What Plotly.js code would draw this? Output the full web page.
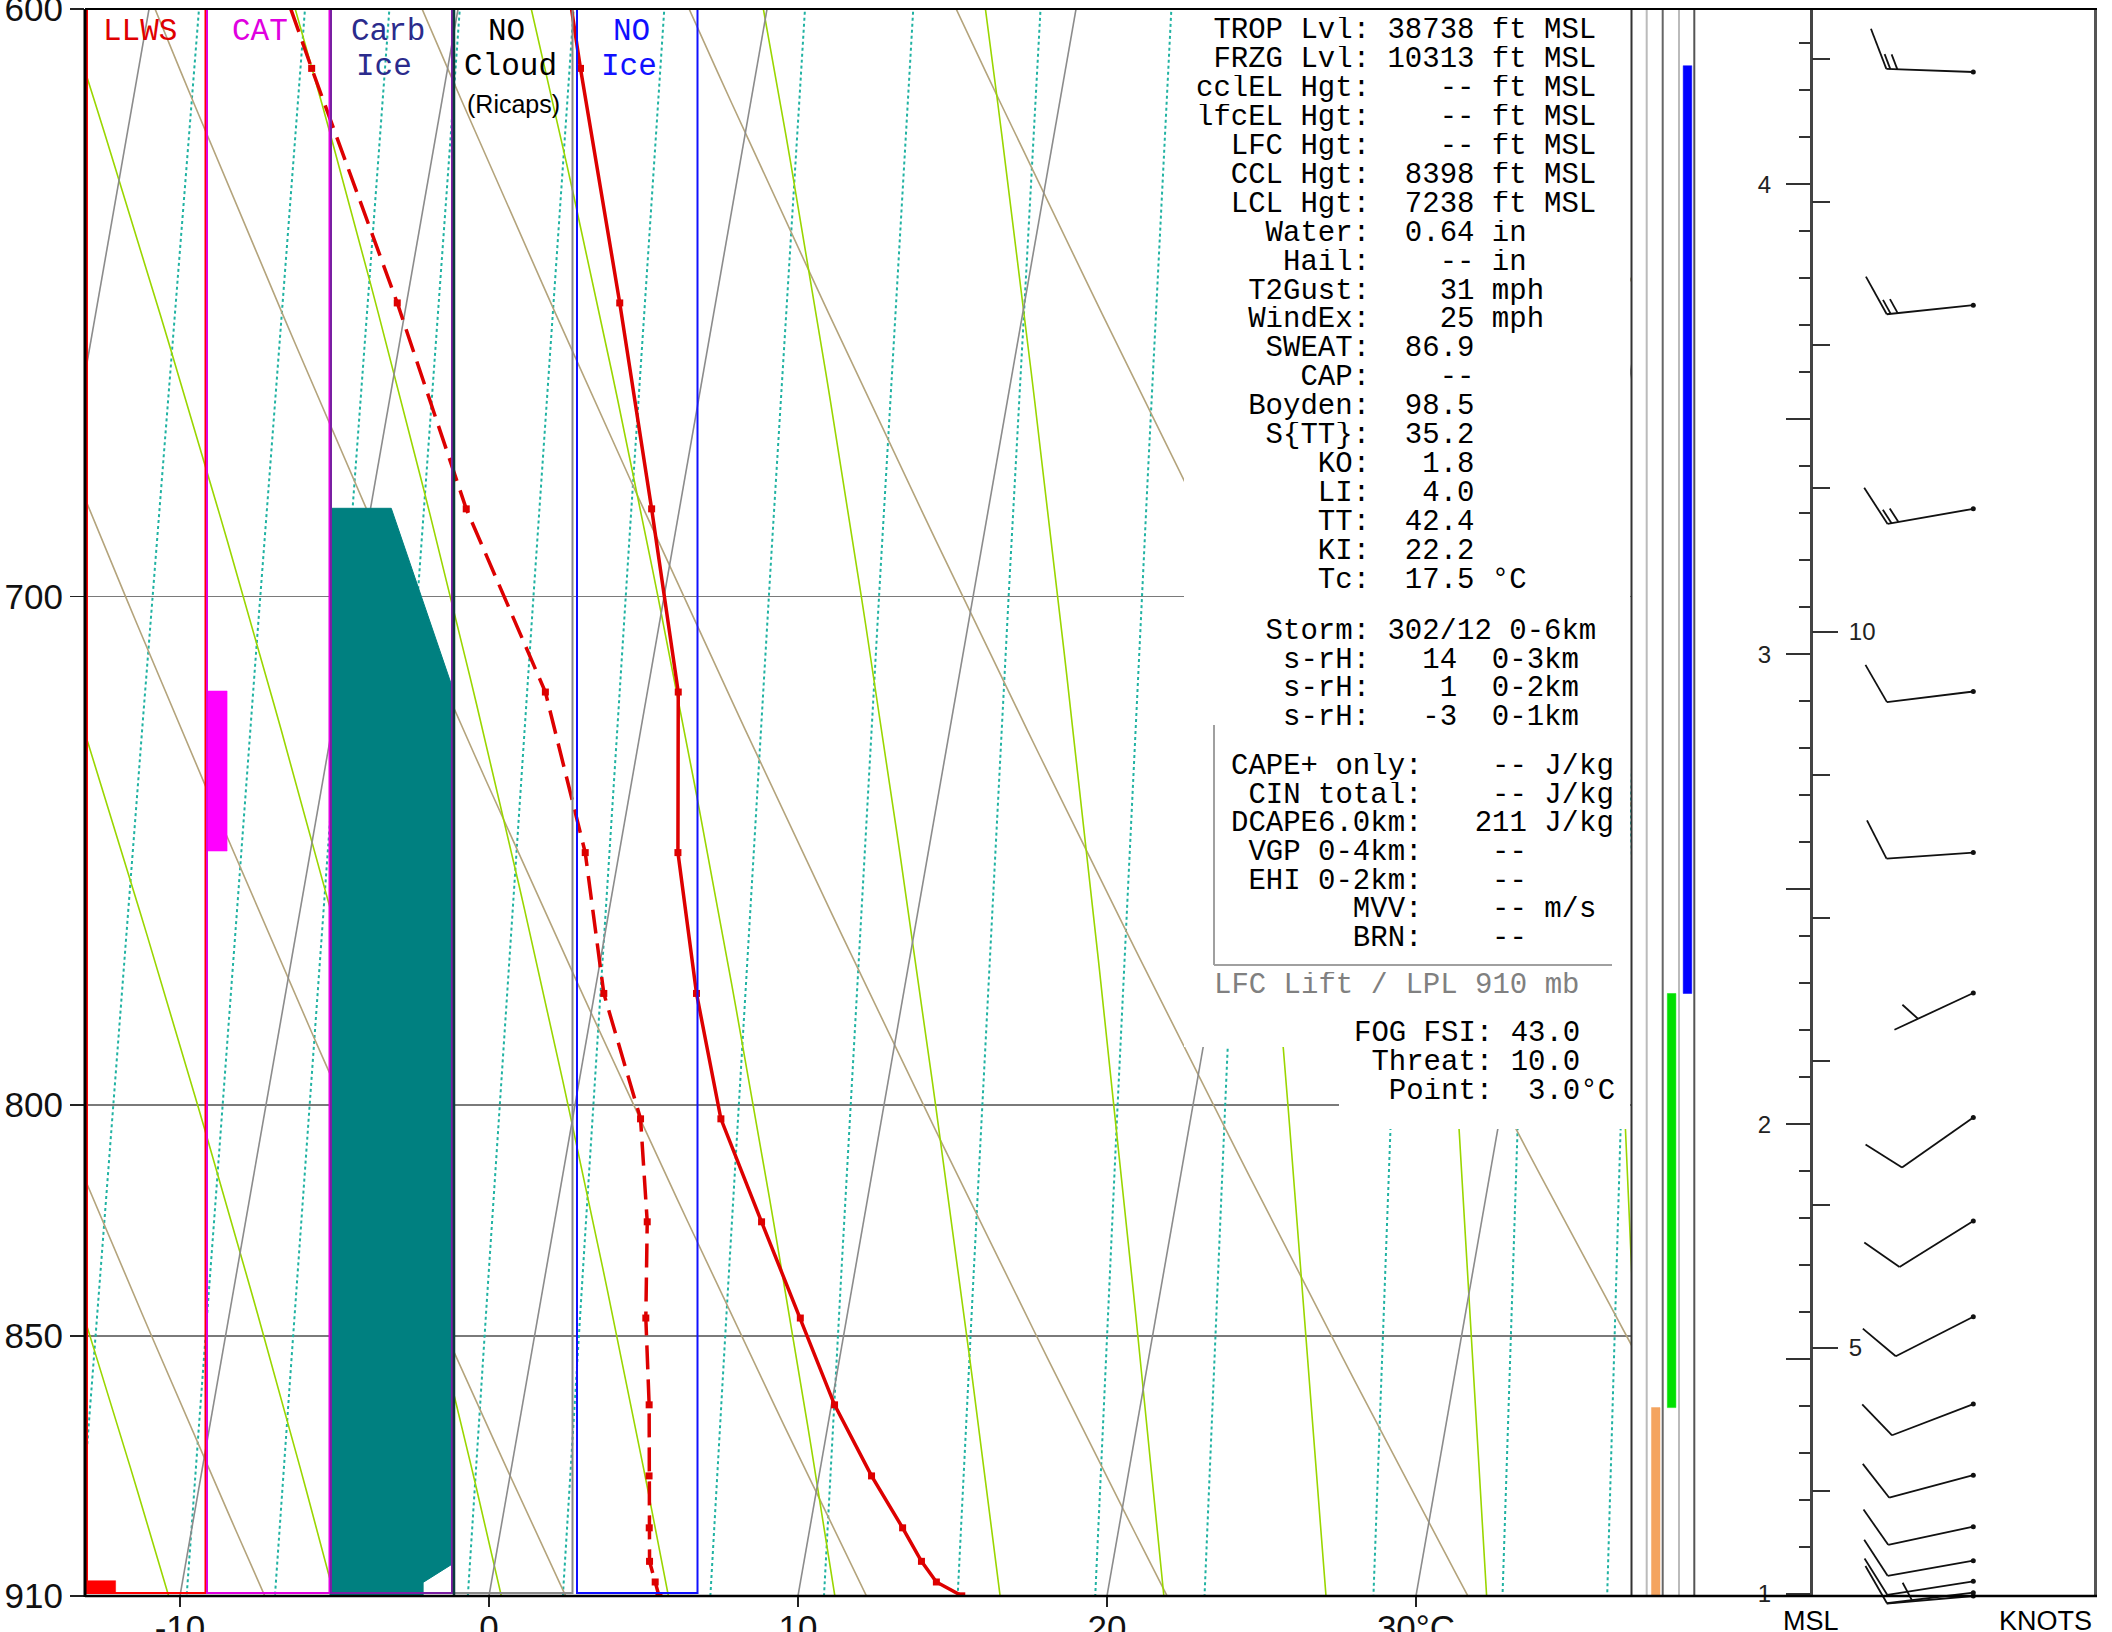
<!DOCTYPE html>
<html>
<head>
<meta charset="utf-8">
<script src="https://cdn.plot.ly/plotly-3.0.1.min.js"></script>
<style>html,body{margin:0;padding:0;background:#fff}#chart{width:2112px;height:1632px}</style>
</head>
<body>
<div id="chart"></div>
<script>
// ================= DATA =================
// Sounding levels (mb), temperature and dew point (deg C)
const levelPres = [590, 609.4, 648.1, 684.1, 717.8, 748.7, 776.9, 802.9, 824.9, 846.0, 865.5, 881.8, 893.9, 901.8, 906.7, 910];
const tempC     = [-7.0, -5.7, -3.1, -0.9, 1.0, 1.9, 3.3, 4.8, 6.7, 8.5, 10.1, 11.7, 13.0, 13.8, 14.4, 15.3];
const dewC      = [-16.5, -14.4, -10.3, -6.9, -3.3, -1.1, 0.3, 2.2, 3.0, 3.5, 4.1, 4.5, 4.8, 5.0, 5.3, 5.5];

// Winds (mb, direction deg, speed kt)
const windPres = [610.0, 648.5, 684.1, 717.7, 748.7, 776.8, 802.6, 824.7, 845.7, 865.3, 881.6, 893.6, 901.6, 906.5, 909.2, 910];
const windDir  = [272, 264, 260, 263, 266, 245, 235, 238, 243, 249, 255, 258, 260, 261, 263, 265];
const windKt   = [14, 14, 14, 10, 10, 5, 10, 10, 10, 10, 10, 10, 10, 10, 10, 5];

// Hazard panels: LLWS, CAT, Carb Ice (pressure, intensity as fraction of panel width)
const llwsPres = [906.4, 909.2];
const llwsLevel = 0.25;
const catPres = [717.6, 748.4];
const catLevel = 0.16;
const carbIcePres  = [910, 684, 684, 717, 902.4, 906.8, 910];
const carbIceLevel = [0, 0, 0.5, 1.0, 1.0, 0.76, 0.76];

// Layer strip (top/bottom pressure, column, colour)
const layerTopP = [609.0, 776.9, 866.1];
const layerBotP = [776.9, 866.1, 910];
const layerCol  = [2, 1, 0];
const layerColor = ['#0000FF', '#00E000', '#F4A460'];

// Diagram reference-line families
const isoTemps   = [-40, -30, -20, -10, 0, 10, 20, 30, 40, 50];
const dryThetaC  = [-10, 0, 10, 20, 30, 40, 50, 60, 70, 80];
const moistThwC  = [-10, -5, 0, 5, 10, 15, 20, 25, 30, 35, 40];
const mixRatios  = [1, 1.5, 2, 2.5, 3, 4, 5, 7, 9, 12, 16, 20, 28, 36, 44];

// Axis tick labels
const presTicks = [600, 700, 800, 850, 910];
const tempTicks = [-10, 0, 10, 20, 30];
const tempTickText = ['-10', '0', '10', '20', '30°C'];

// Text block
const statLabels = ['TROP Lvl','FRZG Lvl','cclEL Hgt','lfcEL Hgt','LFC Hgt','CCL Hgt','LCL Hgt','Water','Hail','T2Gust','WindEx','SWEAT','CAP','Boyden','S{TT}','KO','LI','TT','KI','Tc'];
const statValues = ['38738','10313','--','--','--','8398','7238','0.64','--','31','25','86.9','--','98.5','35.2','1.8','4.0','42.4','22.2','17.5'];
const statUnits  = ['ft MSL','ft MSL','ft MSL','ft MSL','ft MSL','ft MSL','ft MSL','in','in','mph','mph','','','','','','','','','°C'];
const shearLabels = ['Storm','s-rH','s-rH','s-rH'];
const shearValues = ['302/12','14','1','-3'];
const shearLayers = ['0-6km','0-3km','0-2km','0-1km'];
const capeLabels = ['CAPE+ only','CIN total','DCAPE6.0km','VGP 0-4km','EHI 0-2km','MVV','BRN'];
const capeValues = ['--','--','211','--','--','--','--'];
const capeUnits  = ['J/kg','J/kg','J/kg','','','m/s',''];
const fogLabels = ['FOG FSI','Threat','Point'];
const fogValues = ['43.0','10.0','3.0'];
const fogUnits  = ['','','°C'];
const panelNames  = [['LLWS'], ['CAT'], ['Carb','Ice'], ['NO','Cloud'], ['NO','Ice']];
const panelColors = ['#E00000', '#E000E0', '#2B2B8C', '#000000', '#1010FF'];

// ================= GEOMETRY =================
const W = 2112, H = 1632;
const PX = x => x / W, PY = y => 1 - y / H;
const PLOT_L = 85, PLOT_R = 1631, PLOT_T = 9, PLOT_B = 1596;
const ZERO_X = 489, PX_PER_C = 30.9;
const P_TOP = 600, P_BOT = 910;
const K = 21.6;                       // skew (deg C per ln p)
const PANEL_W = 122.5;
const PXDEC = (PLOT_B - PLOT_T) / Math.log10(P_BOT / P_TOP);
const skewX = (T, p) => T + K * Math.log(P_BOT / p);

const yDom = [(H - PLOT_B) / H, (H - PLOT_T) / H];
const EPS = 2e-5;
const yRange = [Math.log10(P_BOT) + EPS, Math.log10(P_TOP) - EPS];

// ================= REFERENCE LINES =================
const pSample = [];
for (let p = 580; p <= 925; p += 5) pSample.push(p);

function family(lines) {
  const xs = [], ys = [];
  lines.forEach(l => { l.forEach(pt => { xs.push(skewX(pt[1], pt[0])); ys.push(pt[0]); }); xs.push(null); ys.push(null); });
  return {x: xs, y: ys};
}
const isoLines = isoTemps.map(T => [[925, T], [580, T]]);
const dryLines = dryThetaC.map(th => pSample.map(p => [p, (th + 273.15) * Math.pow(p / 1000, 0.2857) - 273.15]));
function moistLine(thw) {
  const Rd = 287.04, Cp = 1005.7, Lv = 2.501e6, eps = 0.622;
  const es = T => 6.112 * Math.exp(17.67 * (T - 273.15) / (T - 29.65));
  const f = (p, T) => { const e = es(T); const rs = eps * e / (p - e); return (Rd * T + Lv * rs) / (p * (Cp + Lv * Lv * rs * eps / (Rd * T * T))); };
  let T = thw + 273.15; const pts = [];
  for (let p = 1000; p >= 580; p -= 1) {
    if (p <= 925 && p % 5 === 0) pts.push([p, T - 273.15]);
    const h = -1;
    const k1 = f(p, T), k2 = f(p + h / 2, T + h / 2 * k1), k3 = f(p + h / 2, T + h / 2 * k2), k4 = f(p + h, T + h * k3);
    T += h / 6 * (k1 + 2 * k2 + 2 * k3 + k4);
  }
  return pts;
}
const moistLines = moistThwC.map(moistLine);
const mixLines = mixRatios.map(w => pSample.map(p => { const e = w * p / (622 + w); const l = Math.log(e / 6.112); return [p, 243.5 * l / (17.67 - l)]; }));

const traces = [];
const famStyle = [
  [mixLines, '#20B2A2', 2, 'dot'],
  [dryLines, '#B4A47C', 1.6, 'solid'],
  [moistLines, '#9AD600', 1.6, 'solid'],
  [isoLines, '#8C8C8C', 1.6, 'solid']
];
famStyle.forEach(([lines, col, w, dash]) => {
  const f = family(lines);
  traces.push({type: 'scatter', mode: 'lines', x: f.x, y: f.y, xaxis: 'x', yaxis: 'y', hoverinfo: 'skip',
    line: {color: col, width: w, dash: dash}, connectgaps: false});
});

// Dew point and temperature
traces.push({type: 'scatter', mode: 'lines+markers', x: levelPres.map((p, i) => skewX(dewC[i], p)), y: levelPres,
  xaxis: 'x', yaxis: 'y', line: {color: '#DD0000', width: 3.5, dash: '24px,10px'}, marker: {symbol: 'square', size: 7, color: '#DD0000'}});
traces.push({type: 'scatter', mode: 'lines+markers', x: levelPres.map((p, i) => skewX(tempC[i], p)), y: levelPres,
  xaxis: 'x', yaxis: 'y', line: {color: '#DD0000', width: 3.5}, marker: {symbol: 'square', size: 7, color: '#DD0000'}});

// Hazard panel fills (x2 in panel units)
function rectTrace(x0, x1, p0, p1, color, xa, ya) {
  return {type: 'scatter', mode: 'lines', x: [x0, x1, x1, x0, x0], y: [p0, p0, p1, p1, p0], fill: 'toself', fillcolor: color,
    line: {color: color, width: 0.5}, xaxis: xa, yaxis: ya, hoverinfo: 'skip'};
}
traces.push(rectTrace(0, llwsLevel, llwsPres[0], llwsPres[1], '#FF0000', 'x2', 'y'));
traces.push(rectTrace(1, 1 + catLevel, catPres[0], catPres[1], '#FF00FF', 'x2', 'y'));
traces.push({type: 'scatter', mode: 'lines', x: carbIceLevel.map(v => 2 + v), y: carbIcePres, fill: 'toself', fillcolor: '#008080',
  line: {color: '#008080', width: 1}, xaxis: 'x2', yaxis: 'y', hoverinfo: 'skip'});

// Layer strip
layerTopP.forEach((pt, i) => traces.push(rectTrace(layerCol[i] + 0.3, layerCol[i] + 0.84, pt, layerBotP[i], layerColor[i], 'x3', 'y4')));

// Wind barbs (x4 in pixel units, y4 log pressure)
const STATION_X = 162.3, STAFF = 87, FULL = 43, HALF = 21, SMALL = 16, ANG = 67 * Math.PI / 180;
const bx = [], by = [];
const toP = (p, dy) => p * Math.pow(10, dy / PXDEC);
function seg(p, a, b) { bx.push(STATION_X + a[0], STATION_X + b[0], null); by.push(toP(p, a[1]), toP(p, b[1]), null); }
windPres.forEach((p, i) => {
  const d = windDir[i] * Math.PI / 180;
  const ux = Math.sin(d), uy = -Math.cos(d);
  const fx = ux * Math.cos(ANG) - uy * Math.sin(ANG), fy = ux * Math.sin(ANG) + uy * Math.cos(ANG);
  seg(p, [0, 0], [STAFF * ux, STAFF * uy]);
  const nFull = Math.floor(windKt[i] / 10);
  let rem = windKt[i] - 10 * nFull;
  const nHalf = rem >= 5 ? 1 : 0; rem -= 5 * nHalf;
  const nSmall = Math.floor(rem / 2);
  for (let k = 0; k < nFull; k++) { const r = STAFF - 8 * k; seg(p, [r * ux, r * uy], [r * ux + FULL * fx, r * uy + FULL * fy]); }
  if (nHalf) { const r = nFull > 0 ? STAFF - 8 * nFull : STAFF - 26; seg(p, [r * ux, r * uy], [r * ux + HALF * fx, r * uy + HALF * fy]); }
  for (let j = 0; j < nSmall; j++) { const r = STAFF - 4 - 7 * j; seg(p, [r * ux, r * uy], [r * ux + SMALL * fx, r * uy + SMALL * fy]); }
});
traces.push({type: 'scatter', mode: 'lines', x: bx, y: by, xaxis: 'x4', yaxis: 'y4', line: {color: '#111', width: 1.8}, hoverinfo: 'skip'});
traces.push({type: 'scatter', mode: 'markers', x: windPres.map(() => STATION_X), y: windPres, xaxis: 'x4', yaxis: 'y4',
  marker: {size: 5, color: '#111'}, cliponaxis: false, hoverinfo: 'skip'});

// Dummy traces to register altitude axes
traces.push({type: 'scatter', x: [], y: [], xaxis: 'x', yaxis: 'y2', hoverinfo: 'skip'});
traces.push({type: 'scatter', x: [], y: [], xaxis: 'x', yaxis: 'y3', hoverinfo: 'skip'});

// ================= ANNOTATIONS =================
const ann = [];
const nb = s => s.replace(/ /g, '\u00A0');
function addText(txt, xpx, ypx, opts) {
  ann.push(Object.assign({xref: 'paper', yref: 'paper', x: PX(xpx), y: PY(ypx), text: nb(txt), showarrow: false,
    xanchor: 'left', yanchor: 'middle', borderpad: 0, height: 27, valign: 'middle',
    font: {family: 'Liberation Mono', size: 29, color: '#000'}}, opts || {}));
}
statLabels.forEach((l, i) => {
  const line = (l + ':').padStart(10) + ' ' + statValues[i].padStart(5) + (statUnits[i] ? ' ' + statUnits[i] : '');
  addText(line, 1195, 30.6 + i * 28.94);
});
shearLabels.forEach((l, i) => {
  const left = (l + ':').padStart(10) + ' ' + shearValues[i].padStart(4);
  addText(left + ' '.repeat(Math.max(1, 17 - left.length)) + shearLayers[i], 1195, 631.7 + i * 28.6);
});
capeLabels.forEach((l, i) => {
  const line = (l + ':').padStart(11) + ' ' + capeValues[i].padStart(5) + (capeUnits[i] ? ' ' + capeUnits[i] : '');
  addText(line, 1230, 766.7 + i * 28.6);
});
addText('LFC Lift / LPL 910 mb', 1213, 985, {font: {family: 'Liberation Mono', size: 29, color: '#808080'}});
fogLabels.forEach((l, i) => {
  addText((l + ':').padStart(8) + ' ' + fogValues[i].padStart(4) + fogUnits[i], 1353, 1033 + i * 29.2);
});
// Panel labels
const panelLabelX = [[140], [260], [388, 384], [506, 510], [631, 629]];
panelNames.forEach((names, i) => names.forEach((n, j) => {
  addText(n, panelLabelX[i][j], j === 0 ? 31 : 67, {xanchor: 'center', height: null, font: {family: 'Liberation Mono', size: 31, color: panelColors[i]}});
}));
ann.push({xref: 'paper', yref: 'paper', x: PX(513), y: PY(104), text: '(Ricaps)', showarrow: false, xanchor: 'center', yanchor: 'middle',
  font: {family: 'Liberation Sans', size: 25, color: '#000'}});
ann.push({xref: 'paper', yref: 'paper', x: PX(1811), y: PY(1604), text: 'MSL', showarrow: false, xanchor: 'center', yanchor: 'top',
  font: {family: 'Liberation Sans', size: 27, color: '#000'}});
ann.push({xref: 'paper', yref: 'paper', x: PX(2045), y: PY(1604), text: 'KNOTS', showarrow: false, xanchor: 'center', yanchor: 'top',
  font: {family: 'Liberation Sans', size: 27, color: '#000'}});

// ================= SHAPES =================
const shapes = [];
const rectP = (x0, y0, x1, y1, fill, lineCol, lw) => shapes.push({type: 'rect', xref: 'paper', yref: 'paper', x0: PX(x0), x1: PX(x1), y0: PY(y1), y1: PY(y0),
  fillcolor: fill, line: {color: lineCol || 'rgba(0,0,0,0)', width: lw || 0}, layer: 'above'});
const lineP = (x0, y0, x1, y1, col, lw) => shapes.push({type: 'line', xref: 'paper', yref: 'paper', x0: PX(x0), x1: PX(x1), y0: PY(y0), y1: PY(y1),
  line: {color: col, width: lw}, layer: 'above'});
// masks behind text
rectP(1184, 10, 1630, 1047, '#FFFFFF');
rectP(1339, 1046, 1630, 1129, '#FFFFFF');
// panel frames
rectP(87, 9, 205.5, 1593, 'rgba(0,0,0,0)', '#FF0000', 2);
rectP(207, 9, 329.5, 1593, 'rgba(0,0,0,0)', '#E000E0', 2);
rectP(331, 9, 452, 1593, 'rgba(0,0,0,0)', '#7A1FA2', 2);
rectP(454, 9, 572.5, 1593, 'rgba(0,0,0,0)', '#8A8A8A', 2);
lineP(454, 9, 454, 1596, '#0B3B3B', 2.5);
rectP(577, 9, 697.5, 1593, 'rgba(0,0,0,0)', '#1010FF', 2);
// CAPE box
lineP(1214, 725, 1214, 965, '#A0A0A0', 2);
lineP(1214, 965, 1612, 965, '#A0A0A0', 2);
// strip separators
lineP(1646.7, 9, 1646.7, 1596, '#BBBBBB', 2);
lineP(1662.7, 9, 1662.7, 1596, '#666666', 2);
lineP(1679, 9, 1679, 1596, '#BBBBBB', 2);
lineP(1694.3, 9, 1694.3, 1596, '#555555', 2);
// frames
lineP(1631.5, 9, 1631.5, 1596, '#333333', 2);
lineP(2095.5, 9, 2095.5, 1596, '#555555', 3);
lineP(85, 9, 2097, 9, '#000000', 2);
lineP(85, 1596, 2097, 1596, '#000000', 2.5);
lineP(85, 9, 85, 1597, '#000000', 3);

// ================= LAYOUT =================
const tickFont = {family: 'Liberation Sans', size: 35, color: '#111'};
const layout = {
  width: W, height: H, margin: {l: 0, r: 0, t: 0, b: 0, pad: 0},
  paper_bgcolor: '#FFFFFF', plot_bgcolor: 'rgba(0,0,0,0)', showlegend: false, hovermode: false,
  font: {family: 'Liberation Sans', color: '#111'},
  xaxis: {domain: [PX(PLOT_L), PX(PLOT_R)], range: [(PLOT_L - ZERO_X) / PX_PER_C, (PLOT_R - ZERO_X) / PX_PER_C], anchor: 'y',
    tickmode: 'array', tickvals: tempTicks, ticktext: tempTickText, ticks: 'outside', ticklen: 10, tickwidth: 1.5, tickcolor: '#222',
    ticklabelstandoff: -9, ticklabeloverflow: 'allow',
    showgrid: false, zeroline: false, showline: false, tickfont: tickFont, fixedrange: true},
  yaxis: {domain: yDom, type: 'log', range: yRange, anchor: 'x', tickmode: 'array', tickvals: presTicks, ticktext: presTicks.map(String),
    ticks: 'outside', ticklen: 14, tickwidth: 1.5, tickcolor: '#222', showgrid: true, gridcolor: '#7A7A7A', gridwidth: 1.5,
    ticklabeloverflow: 'allow',
    zeroline: false, showline: false, tickfont: tickFont, fixedrange: true},
  xaxis2: {overlaying: 'x', anchor: 'y', range: [0, (PLOT_R - PLOT_L) / PANEL_W], visible: false, fixedrange: true},
  xaxis3: {domain: [PX(1646.7), PX(1694.3)], anchor: 'y4', range: [0, 3], visible: false, fixedrange: true},
  xaxis4: {domain: [PX(1811), PX(2095)], anchor: 'y4', range: [0, 284], visible: false, fixedrange: true},
  yaxis4: {domain: [(H - 1614) / H, yDom[1]], type: 'log', range: [Math.log10(P_BOT) + 18 / PXDEC, Math.log10(P_TOP)], anchor: 'x4',
    visible: false, fixedrange: true},
  yaxis2: {overlaying: 'y', anchor: 'free', position: PX(1811), side: 'left', range: [0.9957, 4.3733],
    tickmode: 'linear', tick0: 1, dtick: 0.5, labelalias: {'1.5': '', '2.5': '', '3.5': ''},
    ticks: 'outside', ticklen: 24, tickwidth: 2, tickcolor: '#333', ticklabelstandoff: 10,
    minor: {tickmode: 'linear', tick0: 0, dtick: 0.1, ticks: 'outside', ticklen: 11, tickwidth: 2, tickcolor: '#333', showgrid: false},
    showline: true, linewidth: 3, linecolor: '#444', showgrid: false, zeroline: false,
    tickfont: {family: 'Liberation Sans', size: 24, color: '#222'}, fixedrange: true},
  yaxis3: {overlaying: 'y', anchor: 'free', position: PX(1811), side: 'right', range: [0.9957 / 0.3048, 4.3733 / 0.3048],
    tickmode: 'linear', tick0: 0, dtick: 5, ticks: 'outside', ticklen: 26, tickwidth: 2, tickcolor: '#333', ticklabelstandoff: 6,
    minor: {tickmode: 'linear', tick0: 0, dtick: 1, ticks: 'outside', ticklen: 18, tickwidth: 2, tickcolor: '#333', showgrid: false},
    showline: false, showgrid: false, zeroline: false,
    tickfont: {family: 'Liberation Sans', size: 24, color: '#222'}, fixedrange: true},
  shapes: shapes,
  annotations: ann
};

Plotly.newPlot('chart', traces, layout, {displayModeBar: false, staticPlot: true});
</script>
</body>
</html>
